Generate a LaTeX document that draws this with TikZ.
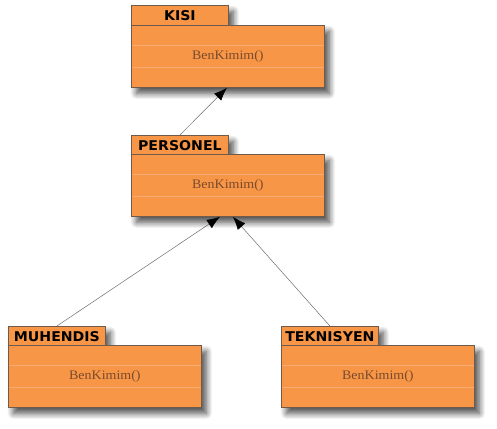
\documentclass[tikz,border=0pt]{standalone}
\usepackage{fontspec}
\setmainfont{Liberation Serif}[FakeStretch=1.08]
\newfontfamily\titlefont{DejaVu Sans}[FakeStretch=1.05]
\usetikzlibrary{arrows.meta,shadows.blur}
\definecolor{boxfill}{HTML}{F79646}
\definecolor{boxedge}{HTML}{6E5B4B}
\definecolor{innerline}{HTML}{F9AB74}
\definecolor{bodytext}{HTML}{7A4A2C}
\tikzset{
  shade/.style={blur shadow={shadow xshift=5bp,shadow yshift=-6bp,shadow blur steps=12,shadow blur radius=6bp,shadow opacity=70}},
  tabbox/.style={shade,draw=boxedge,line width=0.8pt,fill=boxfill,inner sep=0pt,
    minimum width=97bp,minimum height=20bp,anchor=north west,
    font=\titlefont\bfseries\fontsize{13.5}{15}\selectfont,text=black},
  bodybox/.style={shade,draw=boxedge,line width=0.8pt,fill=boxfill,inner sep=0pt,
    minimum width=193bp,minimum height=62bp,anchor=north west,
    path picture={
      \draw[innerline,line width=0.6pt]
        ([yshift=-20bp]path picture bounding box.north west) -- ([yshift=-20bp]path picture bounding box.north east)
        ([yshift=20bp]path picture bounding box.south west) -- ([yshift=20bp]path picture bounding box.south east);}},
  optext/.style={font=\fontsize{13}{15}\selectfont,text=bodytext,inner sep=0pt},
  gen/.style={draw=gray!85!black,line width=0.5pt,
    arrows={-{Latex[length=13bp,width=10bp,black,fill=black]}}}
}
\begin{document}
\begin{tikzpicture}[x=1bp,y=-1bp]
\useasboundingbox (0,0) rectangle (497,428);
% KISI
\node[tabbox] (ktab) at (131,5) {\raisebox{-1bp}{KISI}};
\node[bodybox] (kbody) at (131,25) {};
\node[optext] (kop) at (kbody.center) {BenKimim()};
% PERSONEL
\node[tabbox] (ptab) at (131,135) {\raisebox{-1bp}{PERSONEL}};
\node[bodybox] (pbody) at (131,154) {};
\node[optext] (pop) at (pbody.center) {BenKimim()};
% MUHENDIS
\node[tabbox] (mtab) at (8,326) {\raisebox{-1bp}{MUHENDIS}};
\node[bodybox] (mbody) at (8,345) {};
\node[optext] (mop) at (mbody.center) {BenKimim()};
% TEKNISYEN
\node[tabbox] (ttab) at (281,326) {\raisebox{-1bp}{TEKNISYEN}};
\node[bodybox] (tbody) at (281,345) {};
\node[optext] (top) at (tbody.center) {BenKimim()};
% generalizations
\draw[gen] (ptab.north) -- ([xshift=-1bp]kbody.south);
\draw[gen] (mtab.north) -- ([xshift=-8bp]pbody.south);
\draw[gen] (ttab.north) -- ([xshift=5bp]pbody.south);
\end{tikzpicture}
\end{document}
